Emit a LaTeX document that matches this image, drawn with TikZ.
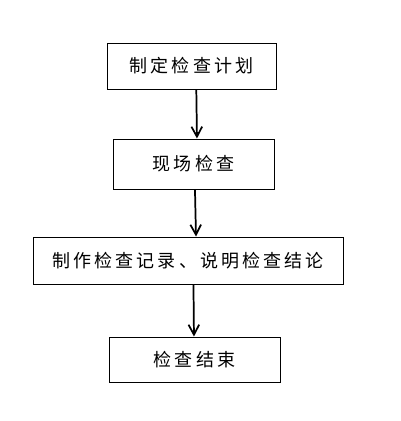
\documentclass[tikz,border=0pt]{standalone}
\usepackage{fontspec}
\newfontfamily\cjk{Noto Sans CJK SC}[LetterSpace=17]
\usetikzlibrary{arrows.meta, positioning}

\tikzset{
  stepbox/.style={draw, line width=0.75pt, font=\cjk\fontsize{13.5pt}{16pt}\selectfont,
                  inner sep=0pt},
  flow/.style={-{Straight Barb[length=7.5pt, width=8pt, line width=1.3pt]}, line width=1.3pt}
}

\begin{document}
\begin{tikzpicture}[x=0.75pt, y=-0.75pt]
\useasboundingbox (0,0) rectangle (400,421);
%
\node[stepbox, minimum width=126.75pt, minimum height=34.5pt] (plan) at (191.5,66) {制定检查计划};
\node[stepbox, minimum width=120.75pt, minimum height=37.5pt] (site) at (193.5,164) {现场检查};
\node[stepbox, minimum width=232.5pt, minimum height=35.25pt] (rec) at (188,260.5) {制作检查记录、说明检查结论};
\node[stepbox, minimum width=128.25pt, minimum height=33.75pt] (fin) at (194.5,359.5) {检查结束};
%
\draw[flow] ([xshift=3.6pt]plan.south) -- ([xshift=2.6pt]site.north);
\draw[flow] ([xshift=1.1pt]site.south) -- ([xshift=6pt]rec.north);
\draw[flow] ([xshift=4.1pt]rec.south) -- ([xshift=-0.4pt]fin.north);
%
\end{tikzpicture}
\end{document}
